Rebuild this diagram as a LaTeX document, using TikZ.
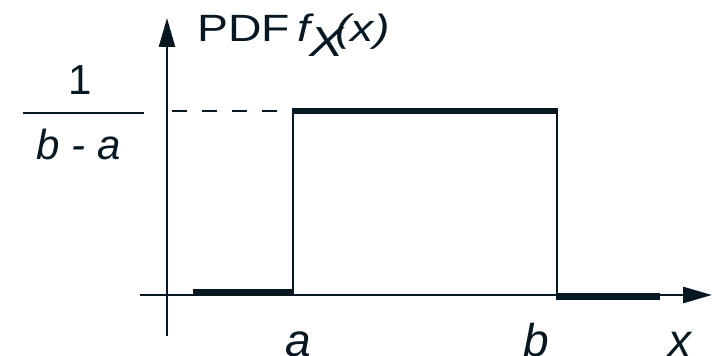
\documentclass[tikz,border=0pt]{standalone}
\usepackage{fontspec}
\setmainfont{Liberation Sans}
\usetikzlibrary{arrows.meta}
\definecolor{ink}{RGB}{8,24,34}
\begin{document}
\begin{tikzpicture}[x=1pt,y=1pt,color=ink,
  axis/.style={line width=2.6pt,-{Triangle[length=29pt,width=16pt]}},
  edge/.style={line width=2.6pt},
  level/.style={line width=6.8pt},
  guide/.style={line width=2pt,dash pattern=on 15pt off 15pt},
  lab/.style={inner sep=0pt,anchor=base,font=\fontsize{46}{48}\selectfont\itshape},
  txt/.style={inner sep=0pt,font=\fontsize{42}{44}\selectfont}]
\useasboundingbox (0,0) rectangle (713,356);
% axes
\coordinate (ybot) at (167,20);
\coordinate (ytop) at (167,338);
\coordinate (xl) at (140,61);
\coordinate (xr) at (712,61);
\draw[axis] (ybot) -- (ytop);
\draw[axis] (xl) -- (xr);
% box
\coordinate (a0) at (293,61);
\coordinate (a1) at (293,245);
\coordinate (b1) at (557,245);
\coordinate (b0) at (557,61);
\coordinate (dl) at (172,245);
\draw[edge] (a0) -- (a1);
\draw[edge] (b0) -- (b1);
\draw[level,line cap=butt] ([xshift=-1.3pt]a1) -- ([xshift=1.3pt]b1);
\draw[guide] (dl) -- (a1);
\coordinate (l0) at (193,63.5);
\coordinate (l1) at (294,63.5);
\coordinate (r0) at (556,59.5);
\coordinate (r1) at (660,59.5);
\draw[level] (l0) -- (l1);
\draw[level] (r0) -- (r1);
% fraction
\coordinate (f0) at (23,243);
\coordinate (f1) at (144,243);
\draw[line width=2.6pt] (f0) -- (f1);
\node[txt,anchor=base] (one) at (80,261) {1};
\node[txt,anchor=base] (ba) at (79,196) {\itshape b - a};
% title
\node[inner sep=0pt,anchor=base west,font=\fontsize{38}{40}\selectfont] (title) at (197,314)
  {\scalebox{1.22}[1]{PDF\kern6pt\textit{f}\kern-4pt\raisebox{-15pt}{\fontsize{42}{44}\selectfont\itshape X}\kern-6.5pt\textit{(x)}}};
% labels
\node[lab] (la) at (298,-1) {a};
\node[lab] (lb) at (536,-1) {b};
\node[lab] (lx) at (680,-1) {x};
\end{tikzpicture}
\end{document}
